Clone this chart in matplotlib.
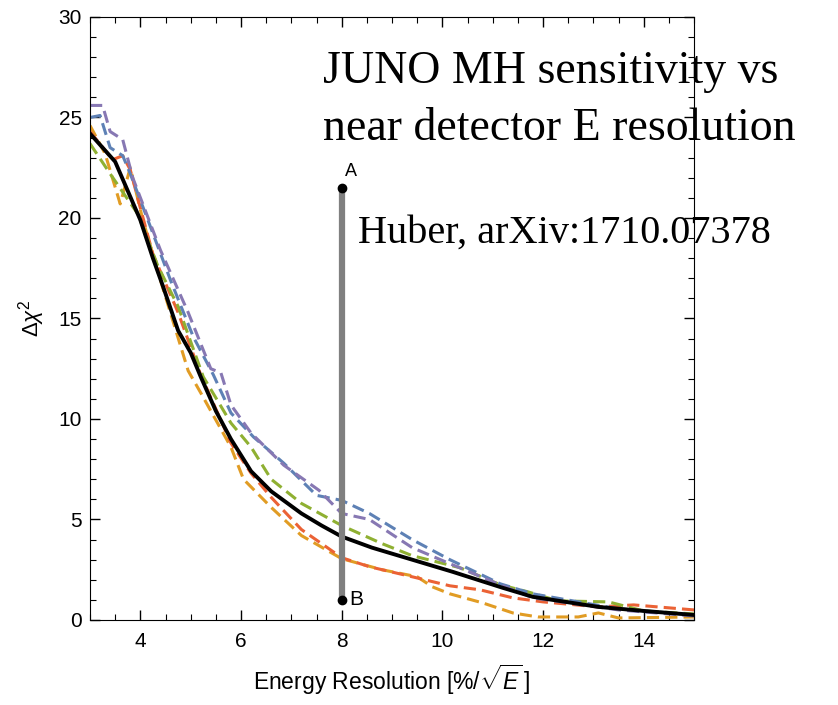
import matplotlib
matplotlib.use("Agg")
import matplotlib.pyplot as plt
import numpy as np

# --- donnees ---
x_black = [3, 3.5, 4, 4.25, 4.45, 4.75, 5.0, 5.2, 5.5, 5.8, 6.2, 6.6, 7.2, 7.6, 8, 8.6, 9.0, 9.4, 10.2, 11.2, 11.8, 13.1, 14, 15]
y_black = [24.2, 22.8, 19.9, 18.0, 16.6, 14.4, 13.3, 12.1, 10.4, 9.0, 7.4, 6.4, 5.3, 4.7, 4.15, 3.6, 3.3, 3.0, 2.4, 1.6, 1.15, 0.65, 0.45, 0.25]

x_purple = [3, 3.25, 3.4, 3.65, 3.85, 4.4, 4.95, 5.4, 5.6, 5.8, 6.2, 6.85, 7.55, 8.0, 8.55, 9.4, 10.15, 11.15, 11.8, 13.5, 15]
y_purple = [25.6, 25.6, 24.3, 23.9, 22.0, 18.4, 15.3, 12.5, 12.3, 10.7, 9.3, 7.7, 6.45, 5.3, 5.0, 3.6, 2.8, 1.75, 1.1, 0.5, 0.2]

x_blue = [3, 3.2, 3.4, 3.65, 3.8, 4.15, 4.6, 5.05, 5.45, 5.8, 6.25, 6.85, 7.5, 8.0, 8.55, 9.4, 10.15, 11.15, 11.8, 13.5, 15]
y_blue = [25.0, 25.1, 23.5, 23.1, 22.2, 19.9, 16.9, 14.1, 12.2, 10.3, 9.1, 7.8, 6.2, 5.95, 5.3, 4.0, 3.0, 1.8, 1.3, 0.55, 0.25]

x_green = [3, 3.4, 3.95, 4.35, 4.75, 5.25, 5.8, 6.2, 6.6, 7.2, 8.0, 8.8, 9.4, 10.35, 11.15, 11.7, 12.3, 13.3, 14, 15]
y_green = [23.7, 22.2, 20.2, 17.6, 15.6, 12.1, 9.8, 8.6, 7.0, 5.8, 4.7, 3.8, 3.2, 2.6, 1.75, 1.4, 0.95, 0.9, 0.45, 0.3]

x_red = [3, 3.45, 3.65, 3.8, 4.0, 4.25, 4.75, 5.2, 5.8, 6.2, 6.6, 7.2, 8.0, 8.55, 9.4, 10.15, 10.75, 11.4, 12.0, 13.1, 13.8, 15]
y_red = [24.3, 22.9, 23.1, 22.4, 20.5, 18.2, 15.3, 12.2, 8.8, 7.3, 6.1, 4.5, 3.1, 2.65, 2.15, 1.7, 1.5, 1.1, 0.9, 0.65, 0.75, 0.5]

x_orange = [3, 3.3, 3.6, 3.8, 4.05, 4.4, 4.95, 5.2, 5.8, 6.05, 6.6, 7.2, 8.0, 8.8, 9.5, 9.8, 10.15, 10.8, 11.4, 11.9, 12.7, 13.1, 13.5, 15]
y_orange = [24.6, 23.2, 20.7, 22.5, 19.9, 16.9, 12.4, 11.3, 8.6, 7.0, 5.6, 4.2, 3.05, 2.5, 2.15, 1.65, 1.3, 0.85, 0.35, 0.15, 0.15, 0.35, 0.1, 0.15]

point_A = (8, 21.5)
point_B = (8, 1.0)

# couleurs par defaut de Mathematica
c_blue, c_orange, c_green, c_red, c_purple = "#5E81B5", "#E19C24", "#8FB032", "#EB6235", "#8778B3"

plt.rcParams['font.family'] = ['Liberation Sans', 'DejaVu Sans']
plt.rcParams['mathtext.fontset'] = 'custom'
plt.rcParams['mathtext.rm'] = 'Liberation Sans'
plt.rcParams['mathtext.it'] = 'Liberation Sans:italic'

fig = plt.figure(figsize=(8.38, 7.05), dpi=100)
ax = fig.add_axes([0.1074, 0.1206, 0.7208, 0.8553])

dash = (0, (4, 2))
for xs, ys, c in [(x_orange, y_orange, c_orange), (x_red, y_red, c_red),
                  (x_green, y_green, c_green), (x_blue, y_blue, c_blue),
                  (x_purple, y_purple, c_purple)]:
    ax.plot(xs, ys, color=c, lw=2.2, linestyle=dash)

ax.plot(x_black, y_black, color="black", lw=2.8)

# segment vertical A-B
ax.plot([point_A[0], point_B[0]], [point_A[1], point_B[1]], color="#808080", lw=4.5, solid_capstyle="butt")
ax.plot([point_A[0], point_B[0]], [point_A[1], point_B[1]], "o", color="black", ms=6)
ax.text(point_A[0] + 0.07, point_A[1] + 0.4, "A", fontsize=13, ha="left", va="bottom")
ax.text(point_B[0] + 0.15, point_B[1], "B", fontsize=15, ha="left", va="center")

ax.set_xlim(3, 15)
ax.set_ylim(0, 30)
ax.set_xticks([4, 6, 8, 10, 12, 14])
ax.set_xticks(np.arange(3, 15.01, 0.5), minor=True)
ax.set_yticks([0, 5, 10, 15, 20, 25, 30])
ax.set_yticks(np.arange(0, 30.01, 1), minor=True)
ax.tick_params(which="both", direction="in", top=True, right=True, labelsize=15)
ax.tick_params(which="major", length=7, width=1)
ax.tick_params(which="minor", length=4, width=0.8)
ax.tick_params(axis="x", pad=9)
ax.tick_params(axis="y", pad=6)

ax.set_xlabel(r"Energy Resolution [%/$\sqrt{E}\,$]", fontsize=16.5, labelpad=8)
ax.set_ylabel(r"$\Delta\chi^2$", fontsize=16, labelpad=8)

# annotations (texte serif)
serif = ["Liberation Serif", "DejaVu Serif"]
fig.text(323 / 838, 1 - 83 / 705, "JUNO MH sensitivity vs",
         family=serif, fontsize=33, ha="left", va="baseline")
fig.text(323 / 838, 1 - 140 / 705, "near detector E resolution",
         family=serif, fontsize=33, ha="left", va="baseline")
fig.text(358 / 838, 1 - 243 / 705, "Huber, arXiv:1710.07378",
         family=serif, fontsize=29, ha="left", va="baseline")

fig.savefig("out.png", dpi=100)
